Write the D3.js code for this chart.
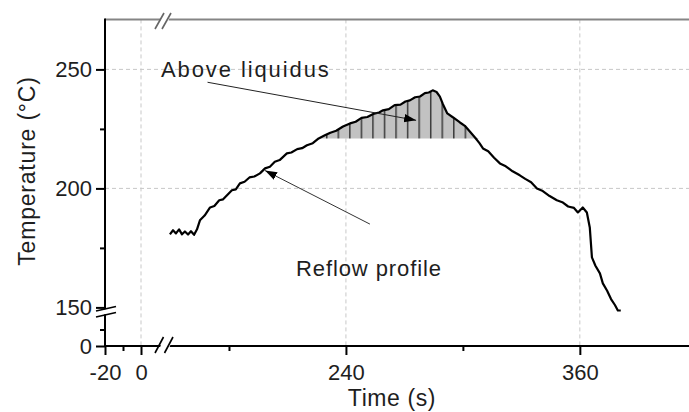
<!DOCTYPE html>
<html>
<head>
<meta charset="utf-8">
<script src="https://cdn.jsdelivr.net/npm/d3@7"></script>
<style>
  body { margin: 0; background: #fff; }
  text { font-family: "Liberation Sans", Arial, sans-serif; fill: #1e1e1e; }
</style>
</head>
<body>
<div id="chart"></div>
<script>
// Reflow profile: time (s) and temperature (deg C)
var times = [149.7, 151.3, 152.8, 154.4, 155.9, 157.4, 159.0, 160.5, 162.1, 163.6,
  165.1, 167.5, 170.3, 172.5, 175, 177, 179, 181.5, 183.5, 185.6,
  188, 190.5, 193, 195.9, 198.5, 201, 203.5, 206, 209.7, 212,
  215, 217.5, 220, 223, 226, 229.2, 232, 235, 238.5, 242.1,
  245, 248, 251, 254, 257, 259, 262, 265, 268, 270.5,
  272.8, 275.5, 278, 280.5, 282.5, 284.5, 286.5, 288.2, 289.7, 292,
  295, 298.5, 301, 304, 306.2, 308.5, 310.3, 313, 316, 319,
  322, 325.5, 329.2, 332, 335, 338, 341, 344.5, 348.2, 351,
  354, 357, 359, 361.5, 363.6, 365.1, 366.2, 368, 370.3, 371.8,
  374, 376, 378, 379.5, 381];
var temps = [180.7, 182.4, 181.1, 182.8, 180.7, 181.9, 180.6, 182.0, 180.5, 182.8,
  186.6, 188.6, 192.0, 192.6, 195.0, 195.4, 197.1, 199.2, 199.6, 202.1,
  202.8, 204.6, 205.0, 206.3, 208.4, 209.1, 211.2, 211.9, 214.7, 215.1,
  216.5, 216.9, 218.1, 219.0, 221.0, 222.3, 223.4, 224.2, 226.0, 227.3,
  228.0, 229.6, 230.0, 231.3, 231.9, 232.8, 233.3, 235.0, 235.2, 236.5,
  237.0, 238.3, 238.6, 240.0, 240.3, 241.2, 240.5, 238.6, 235.5, 231.5,
  229.8, 227.7, 226.3, 223.5, 221.4, 219.0, 216.8, 215.6, 212.9, 210.5,
  209.3, 207.2, 205.5, 204.0, 202.6, 200.0, 198.9, 196.8, 195.0, 194.2,
  192.4, 191.8, 189.9, 192.0, 189.9, 183.6, 171.0, 167.5, 164.3, 160.1,
  157.0, 153.5, 151.0, 148.7, 148.7];
var liquidus = 221;

// Broken axes: ticks for each piece
var xLowTicks = [-20, 0], xLowMinor = [-10];
var xHighTicks = [240, 360], xHighMinor = [180, 300];
var yLowTicks = [0], yLowMinor = [50];
var yHighTicks = [150, 200, 250], yHighMinor = [175, 225];

var data = times.map((t, i) => ({t: t, T: temps[i]}));

var width = 689, height = 412;
var svg = d3.select("#chart").append("svg")
    .attr("width", width)
    .attr("height", height);

// Scales (two pieces for each axis)
var xLow = d3.scaleLinear().domain([-20, 10]).range([105, 159]);
var xHigh = d3.scaleLinear().domain([150, 416]).range([170.5, 689]);
var yLow = d3.scaleLinear().domain([0, 100]).range([346, 313]);
var yHigh = d3.scaleLinear().domain([150, 270]).range([307.4, 21.8]);

var xLeft = 105, yBottom = 346, yTop = yHigh(271), xRight = width;

// Grid
var grid = svg.append("g")
    .attr("stroke", "#c8c8c8")
    .attr("stroke-width", 1)
    .attr("stroke-dasharray", "4,3");
grid.selectAll(".hg").data([200, 250]).join("line")
    .attr("x1", xLeft).attr("x2", xRight)
    .attr("y1", d => yHigh(d)).attr("y2", d => yHigh(d));
var vgrid = [xLow(0)].concat(xHighTicks.map(d => xHigh(d)));
grid.selectAll(".vg").data(vgrid).join("line")
    .attr("x1", d => d).attr("x2", d => d)
    .attr("y1", yTop).attr("y2", yBottom);

// Hatched area above liquidus
var defs = svg.append("defs");
var pat = defs.append("pattern")
    .attr("id", "hatch")
    .attr("patternUnits", "userSpaceOnUse")
    .attr("x", 338.3 - 0.75)
    .attr("width", 11.55).attr("height", 400);
pat.append("rect").attr("width", 11.55).attr("height", 400).attr("fill", "#c2c2c2");
pat.append("line").attr("x1", 0.75).attr("x2", 0.75).attr("y1", 0).attr("y2", 400)
    .attr("stroke", "#3a3a3a").attr("stroke-width", 1.5);

var hot = data.filter(d => d.t >= 223 && d.t <= 308.5);
var area = d3.area()
    .x(d => xHigh(d.t))
    .y0(yHigh(liquidus))
    .y1(d => yHigh(Math.max(d.T, liquidus)));
svg.append("path")
    .datum(hot)
    .attr("d", area)
    .attr("fill", "url(#hatch)");

// Curve
var line = d3.line().x(d => xHigh(d.t)).y(d => yHigh(d.T));
svg.append("path")
    .datum(data)
    .attr("d", line)
    .attr("fill", "none")
    .attr("stroke", "#000")
    .attr("stroke-width", 2.2)
    .attr("stroke-linejoin", "round");

// Axis lines
svg.append("line")
    .attr("x1", xLeft).attr("x2", xRight).attr("y1", yTop).attr("y2", yTop)
    .attr("stroke", "#858585").attr("stroke-width", 2);
svg.append("line")
    .attr("x1", xLeft).attr("x2", xLeft).attr("y1", yTop - 1).attr("y2", yBottom + 1)
    .attr("stroke", "#000").attr("stroke-width", 2);
svg.append("line")
    .attr("x1", xLeft - 1).attr("x2", xRight).attr("y1", yBottom).attr("y2", yBottom)
    .attr("stroke", "#000").attr("stroke-width", 2);

// Ticks via d3 axes
function tickAxis(gen, scale, vals, size, labels, tr) {
    var g = svg.append("g")
        .attr("transform", tr)
        .call(gen(scale).tickValues(vals).tickSize(size).tickSizeOuter(0).tickPadding(4)
            .tickFormat(labels ? (d => String(d)) : ""));
    g.select(".domain").remove();
    g.selectAll("line").attr("stroke", "#000").attr("stroke-width", 2);
    g.selectAll("text").style("font-size", "22px").attr("fill", "#1e1e1e")
        .style("font-family", "'Liberation Sans', Arial, sans-serif")
        .attr("font-family", null);
    return g;
}
tickAxis(d3.axisLeft, yHigh, yHighTicks, 9, true, "translate(" + xLeft + ",0)");
tickAxis(d3.axisLeft, yHigh, yHighMinor, 5, false, "translate(" + xLeft + ",0)");
tickAxis(d3.axisLeft, yLow, yLowTicks, 9, true, "translate(" + xLeft + ",0)");
tickAxis(d3.axisLeft, yLow, yLowMinor, 5, false, "translate(" + xLeft + ",0)");
tickAxis(d3.axisBottom, xLow, xLowTicks, 9, true, "translate(0," + yBottom + ")")
    .selectAll("text").attr("dy", "0.95em");
tickAxis(d3.axisBottom, xLow, xLowMinor, 5, false, "translate(0," + yBottom + ")");
tickAxis(d3.axisBottom, xHigh, xHighTicks, 9, true, "translate(0," + yBottom + ")")
    .selectAll("text").attr("dy", "0.95em");
tickAxis(d3.axisBottom, xHigh, xHighMinor, 5, false, "translate(0," + yBottom + ")");

// Break marks
function breakMark(gap, a, b, color) {
    svg.append("polygon").attr("points", gap).attr("fill", "#fff");
    [a, b].forEach(p => svg.append("line")
        .attr("x1", p[0]).attr("y1", p[1]).attr("x2", p[2]).attr("y2", p[3])
        .attr("stroke", color).attr("stroke-width", 1.6));
}
breakMark("158,354 167,354 173,338 163,338",
    [155, 353, 163.5, 337], [164.5, 353, 173, 337], "#000");
breakMark("159,28 167,28 171,10 163,10",
    [155, 29, 164, 13], [162, 29, 171, 13], "#666");
breakMark("97,311 116,307 116,312 97,316",
    [96, 311, 116, 306.5], [96, 317, 116, 312.5], "#000");

// Axis titles
svg.append("text")
    .attr("x", 392).attr("y", 406)
    .attr("text-anchor", "middle")
    .style("font-size", "23px")
    .style("letter-spacing", "0.6px")
    .text("Time (s)");
svg.append("text")
    .attr("transform", "translate(35,171) rotate(-90)")
    .attr("text-anchor", "middle")
    .style("font-size", "23px")
    .style("letter-spacing", "0.8px")
    .text("Temperature (°C)");

// Annotations
defs.append("marker")
    .attr("id", "arrow")
    .attr("viewBox", "0 0 10 10")
    .attr("refX", 10).attr("refY", 5)
    .attr("markerWidth", 12).attr("markerHeight", 12)
    .attr("markerUnits", "userSpaceOnUse")
    .attr("orient", "auto")
    .append("path")
    .attr("d", "M0,1.5 L10,5 L0,8.5 Z")
    .attr("fill", "#000");

svg.append("text")
    .attr("x", 161).attr("y", 77)
    .style("font-size", "22px")
    .style("letter-spacing", "1.9px")
    .text("Above liquidus");
svg.append("line")
    .attr("x1", xHigh(169)).attr("y1", yHigh(244.6))
    .attr("x2", xHigh(276)).attr("y2", yHigh(228.6))
    .attr("stroke", "#222").attr("stroke-width", 1)
    .attr("marker-end", "url(#arrow)");

svg.append("text")
    .attr("x", 296).attr("y", 276)
    .style("font-size", "22px")
    .style("letter-spacing", "0.9px")
    .text("Reflow profile");
svg.append("line")
    .attr("x1", xHigh(252.3)).attr("y1", yHigh(185))
    .attr("x2", xHigh(198.5)).attr("y2", yHigh(207.5))
    .attr("stroke", "#333").attr("stroke-width", 1)
    .attr("marker-end", "url(#arrow)");
</script>
</body>
</html>
